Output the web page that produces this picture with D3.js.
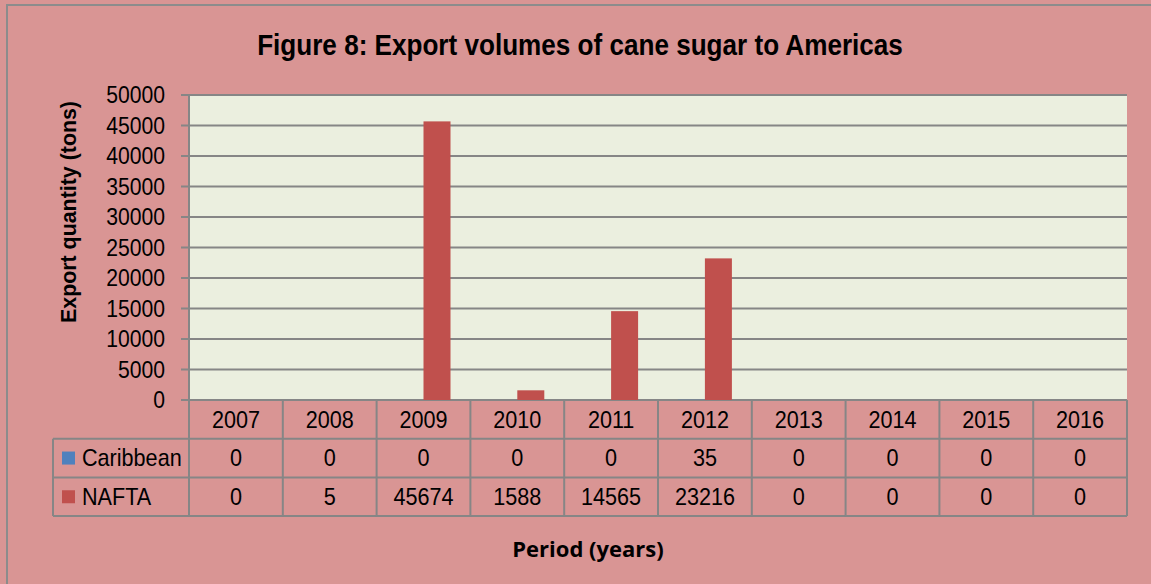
<!DOCTYPE html>
<html>
<head>
<meta charset="utf-8">
<script src="https://cdn.jsdelivr.net/npm/d3@7"></script>
<style>
  html, body { margin: 0; padding: 0; background: #fff; }
  svg { display: block; }
  .narrow { font-family: "Liberation Sans", Arial, sans-serif; }
</style>
</head>
<body>
<svg id="chart" width="1151" height="584"></svg>
<script>
const years = ["2007", "2008", "2009", "2010", "2011", "2012", "2013", "2014", "2015", "2016"];
const seriesNames = ["Caribbean", "NAFTA"];
const caribbean = [0, 0, 0, 0, 0, 35, 0, 0, 0, 0];
const nafta = [0, 5, 45674, 1588, 14565, 23216, 0, 0, 0, 0];
const seriesColors = ["#4F81BD", "#C0504D"];
const yTicks = [0, 5000, 10000, 15000, 20000, 25000, 30000, 35000, 40000, 45000, 50000];

const width = 1151,
	height = 584;
const plot = { left: 189, right: 1127, top: 95, bottom: 400 };
const rowH = 38.7;
const legendLeft = 53;
const gridColor = "#868686";
const sx = 0.9; // horizontal squeeze to mimic a narrow face

const svg = d3.select("#chart");

// background + outer border
svg.append("rect").attr("width", width).attr("height", height).attr("fill", "#D99594");
svg.append("path")
	.attr("d", `M7,${height} V5 H${width}`)
	.attr("fill", "none")
	.attr("stroke", "#8c8c8c")
	.attr("stroke-width", 2);

const x = d3.scaleBand().domain(years).range([plot.left, plot.right]);
const y = d3.scaleLinear().domain([0, 50000]).range([plot.bottom, plot.top]);

// plot area
svg.append("rect")
	.attr("x", plot.left)
	.attr("y", plot.top)
	.attr("width", plot.right - plot.left)
	.attr("height", plot.bottom - plot.top)
	.attr("fill", "#EBEFDF");

// gridlines
svg.append("g")
	.selectAll("line")
	.data(yTicks)
	.join("line")
	.attr("x1", plot.left - 8)
	.attr("x2", plot.right)
	.attr("y1", (d) => y(d))
	.attr("y2", (d) => y(d))
	.attr("stroke", gridColor)
	.attr("stroke-width", 2);

// y axis line
svg.append("line")
	.attr("x1", plot.left)
	.attr("x2", plot.left)
	.attr("y1", plot.top)
	.attr("y2", plot.bottom)
	.attr("stroke", gridColor)
	.attr("stroke-width", 2);

// y tick labels
svg.append("g")
	.attr("class", "narrow")
	.selectAll("text")
	.data(yTicks)
	.join("text")
	.attr("transform", (d) => `translate(165,${y(d)}) scale(${sx},1)`)
	.attr("dy", "0.35em")
	.attr("text-anchor", "end")
	.attr("font-size", 23.5)
	.attr("fill", "#000")
	.text((d) => d);

// bars
const bw = 27;
const seriesData = [caribbean, nafta];
seriesData.forEach((vals, si) => {
	svg.append("g")
		.selectAll("rect")
		.data(vals.map((v, i) => ({ year: years[i], v })))
		.join("rect")
		.attr("x", (d) => x(d.year) + x.bandwidth() / 2 - bw + si * bw)
		.attr("y", (d) => y(d.v))
		.attr("width", bw)
		.attr("height", (d) => plot.bottom - y(d.v))
		.attr("fill", seriesColors[si]);
});

// data table
const tbl = svg.append("g").attr("class", "narrow");
const tTop = plot.bottom;
const tBottom = tTop + rowH * 3;

[1, 2, 3].forEach((r) => {
	tbl.append("line")
		.attr("x1", legendLeft)
		.attr("x2", plot.right)
		.attr("y1", tTop + rowH * r)
		.attr("y2", tTop + rowH * r)
		.attr("stroke", gridColor)
		.attr("stroke-width", 2);
});
tbl.selectAll("line.v")
	.data(years.map((d) => x(d)).concat([plot.right]))
	.join("line")
	.attr("class", "v")
	.attr("x1", (d) => d)
	.attr("x2", (d) => d)
	.attr("y1", tTop)
	.attr("y2", tBottom)
	.attr("stroke", gridColor)
	.attr("stroke-width", 2);
tbl.append("line")
	.attr("x1", legendLeft)
	.attr("x2", legendLeft)
	.attr("y1", tTop + rowH)
	.attr("y2", tBottom)
	.attr("stroke", gridColor)
	.attr("stroke-width", 2);

const fs = 24;
tbl.selectAll("text.yr")
	.data(years)
	.join("text")
	.attr("class", "yr")
	.attr("transform", (d) => `translate(${x(d) + x.bandwidth() / 2},${tTop + rowH / 2}) scale(${sx},1)`)
	.attr("dy", "0.35em")
	.attr("text-anchor", "middle")
	.attr("font-size", fs)
	.text((d) => d);

seriesData.forEach((vals, si) => {
	const cy = tTop + rowH * (si + 1) + rowH / 2;
	tbl.append("rect")
		.attr("x", 62)
		.attr("y", cy - 6.5)
		.attr("width", 13)
		.attr("height", 13)
		.attr("fill", seriesColors[si]);
	tbl.append("text")
		.attr("transform", `translate(82,${cy}) scale(${sx},1)`)
		.attr("dy", "0.35em")
		.attr("font-size", fs)
		.text(seriesNames[si]);
	tbl.selectAll("text.v" + si)
		.data(vals)
		.join("text")
		.attr("class", "v" + si)
		.attr("transform", (d, i) => `translate(${x(years[i]) + x.bandwidth() / 2},${cy}) scale(${sx},1)`)
		.attr("dy", "0.35em")
		.attr("text-anchor", "middle")
		.attr("font-size", fs)
		.text((d) => d);
});

// title
svg.append("text")
	.attr("class", "narrow")
	.attr("transform", `translate(580,55) scale(${sx},1)`)
	.attr("text-anchor", "middle")
	.attr("font-size", 29)
	.attr("font-weight", "bold")
	.text("Figure 8: Export volumes of cane sugar to Americas");

// y axis title
svg.append("text")
	.attr("class", "narrow")
	.attr("transform", `translate(68,212) rotate(-90) scale(0.93,1)`)
	.attr("dy", "0.35em")
	.attr("text-anchor", "middle")
	.attr("font-size", 23)
	.attr("font-weight", "bold")
	.text("Export quantity (tons)");

// x axis title
svg.append("text")
	.attr("x", 588)
	.attr("y", 549)
	.attr("dy", "0.35em")
	.attr("text-anchor", "middle")
	.attr("font-family", "'Open Sans', sans-serif")
	.attr("font-size", 22)
	.attr("font-weight", "bold")
	.text("Period (years)");
</script>
</body>
</html>
